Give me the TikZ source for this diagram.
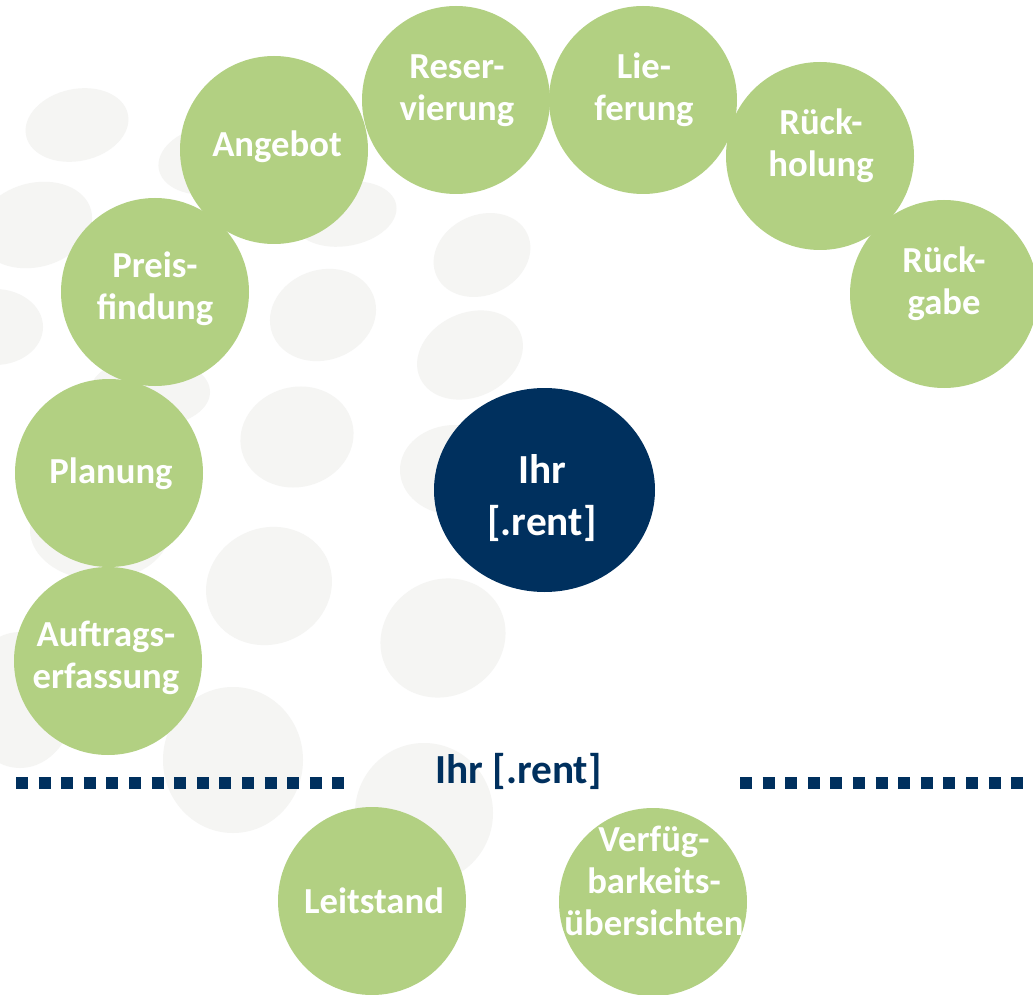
\documentclass[tikz,border=0pt]{standalone}
\usepackage{fontspec}
\setmainfont{Carlito}
\usetikzlibrary{shapes.geometric}
\definecolor{rgreen}{RGB}{178,208,130}
\definecolor{rblue}{RGB}{0,48,94}
\definecolor{bgell}{RGB}{245,245,243}
\begin{document}
\begin{tikzpicture}[x=0.75pt,y=-0.75pt,
  gcirc/.style={circle,fill=rgreen,minimum size=141pt,inner sep=0pt},
  gtext/.style={text=white,font=\bfseries\fontsize{27.5}{31.5}\selectfont,align=center,anchor=base,inner sep=0pt},
  btext/.style={text=white,font=\bfseries\fontsize{31}{39}\selectfont,align=center,anchor=base,inner sep=0pt},
  bell/.style={ellipse,fill=rblue,minimum width=165.75pt,minimum height=153pt,inner sep=0pt},
  dotline/.style={draw=rblue,line width=9pt,dash pattern=on 9pt off 7.95pt},
  blob/.style={fill=bgell}]
\useasboundingbox (0,0) rectangle (1033,995);
\fill[white] (0,0) rectangle (1033,995);
\clip (0,0) rectangle (1033,995);
% faint background blobs
\fill[blob, rotate around={12:(77,125)}] (77,125) ellipse [x radius=52, y radius=36];
\fill[blob, rotate around={15:(35,225)}] (35,225) ellipse [x radius=58, y radius=42];
\fill[blob, rotate around={10:(210,160)}] (210,160) ellipse [x radius=52, y radius=34];
\fill[blob] (-5,327) ellipse [x radius=48, y radius=38];
\fill[blob, rotate around={20:(323,315)}] (323,315) ellipse [x radius=54, y radius=45];
\fill[blob, rotate around={10:(345,214)}] (345,214) ellipse [x radius=52, y radius=32];
\fill[blob, rotate around={25:(482,255)}] (482,255) ellipse [x radius=50, y radius=40];
\fill[blob, rotate around={25:(470,355)}] (470,355) ellipse [x radius=55, y radius=42];
\fill[blob, rotate around={15:(297,437)}] (297,437) ellipse [x radius=57, y radius=50];
\fill[blob] (150,392) ellipse [x radius=60, y radius=35];
\fill[blob] (455,470) ellipse [x radius=55, y radius=45];
\fill[blob, rotate around={25:(269,586)}] (269,586) ellipse [x radius=64, y radius=58];
\fill[blob, rotate around={30:(443,638)}] (443,638) ellipse [x radius=64, y radius=58];
\fill[blob] (233,760) ellipse [x radius=70, y radius=73];
\fill[blob] (424,813) ellipse [x radius=69, y radius=70];
\fill[blob] (20,700) ellipse [x radius=55, y radius=68];
\fill[blob] (100,530) ellipse [x radius=70, y radius=50];
% green process circles
\node[gcirc] (auftrag) at (108,661) {};
\node[gcirc] (planung) at (109,473) {};
\node[gcirc] (preis) at (155,292) {};
\node[gcirc] (angebot) at (274,150) {};
\node[gcirc] (reserv) at (456,100) {};
\node[gcirc] (liefer) at (643,100) {};
\node[gcirc] (rueckhol) at (820,156) {};
\node[gcirc] (rueckgabe) at (944,294) {};
\node[gcirc] (leit) at (372,901) {};
\node[gcirc] (verfueg) at (653,902) {};
% central dark circle
\node[bell] (ihr) at (544.5,490) {};
% texts (anchor base = baseline of last line)
\node[gtext] (auftrag-t) at (106,688) {Auftrags-\\erfassung};
\node[gtext] (planung-t) at (111,483) {Planung};
\node[gtext] (preis-t) at (155,320) {Preis-\\findung};
\node[gtext] (angebot-t) at (277,157) {Angebot};
\node[gtext] (reserv-t) at (457,121) {Reser-\\vierung};
\node[gtext] (liefer-t) at (644,121) {Lie-\\ferung};
\node[gtext] (rueckhol-t) at (821,177) {Rück-\\holung};
\node[gtext] (rueckgabe-t) at (944,315) {Rück-\\gabe};
\node[gtext] (leit-t) at (374,913) {Leitstand};
\node[gtext] (verfueg-t) at (654,935) {Verfüg-\\barkeits-\\übersichten};
\node[btext] (ihr-t) at (542,535) {Ihr\\{[.rent]}};
\node[btext,text=rblue] (label) at (518.5,783) {Ihr [.rent]};
% dotted separators
\coordinate (dl1) at (16,782.5);
\coordinate (dl2) at (345,782.5);
\coordinate (dr1) at (740,782.5);
\coordinate (dr2) at (1024,782.5);
\draw[dotline] (dl1) -- (dl2);
\draw[dotline] (dr1) -- (dr2);
\end{tikzpicture}
\end{document}
